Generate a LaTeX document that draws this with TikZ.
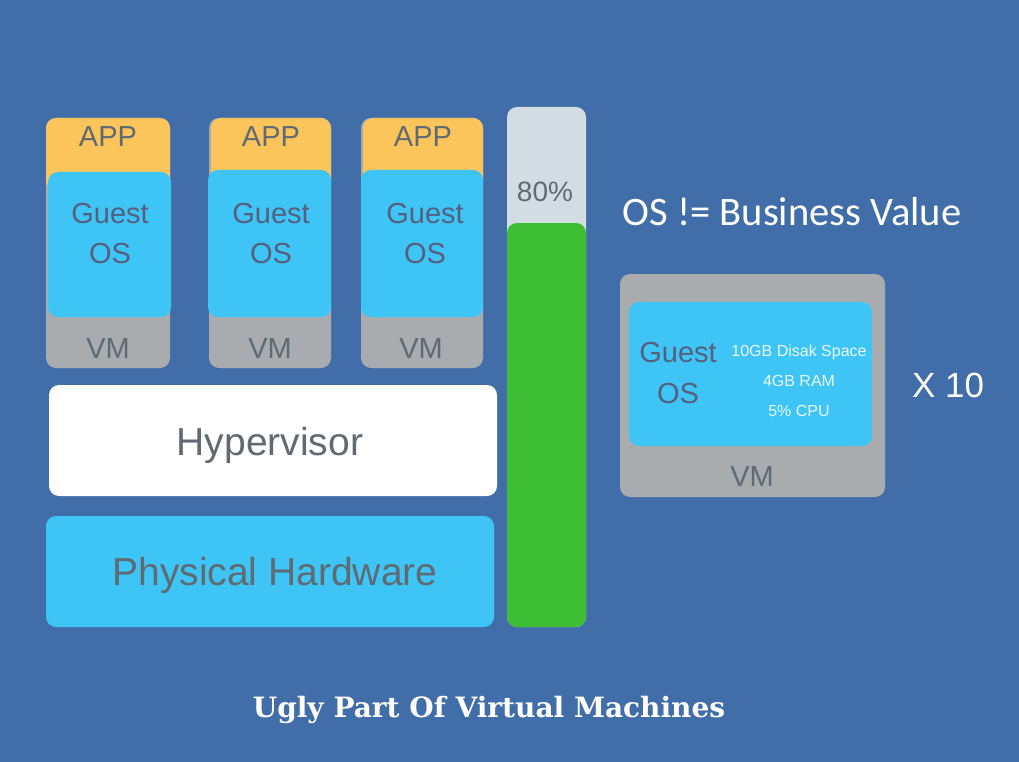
\documentclass[tikz,border=0pt]{standalone}
\usepackage{fontspec}
\setmainfont{Liberation Sans}
\newfontfamily\calfont{Carlito}
\newfontfamily\slabfont{DejaVu Serif}
\usetikzlibrary{positioning}

\definecolor{bgblue}{RGB}{65,109,168}
\definecolor{apporange}{RGB}{251,197,91}
\definecolor{osblue}{RGB}{62,197,245}
\definecolor{vmgray}{RGB}{169,172,175}
\definecolor{barlight}{RGB}{211,220,226}
\definecolor{bargreen}{RGB}{61,190,53}
\definecolor{txtgray}{RGB}{95,106,114}

\newcommand{\fsz}[1]{\fontsize{#1}{#1}\selectfont}

\tikzset{
  box/.style={rectangle, rounded corners=10pt, inner sep=0pt, draw=none},
  vmbox/.style={box, fill=vmgray},
  appbox/.style={box, fill=apporange},
  osbox/.style={box, fill=osblue},
  lbl/.style={inner sep=0pt, anchor=base, text=txtgray, font=\fsz{29}},
  oslbl/.style={lbl, text=txtgray!90!blue},
  spec/.style={inner sep=0pt, anchor=base, text=white!88!osblue, font=\fsz{16}},
}

\begin{document}
\begin{tikzpicture}[x=1pt, y=-1pt]
  \useasboundingbox (0,0) rectangle (1019,762);
  \fill[bgblue] (0,0) rectangle (1019,762);

  % VM stack
  \node[vmbox, minimum width=124, minimum height=250] (vm1) at (108,243) {};
  \node[appbox, minimum width=124, minimum height=72] (app1) at (108,154) {};
  \node[osbox, minimum width=123, minimum height=145] (os1) at (109.5,244.5) {};
  \node[lbl] (app1t) at (108,147) {APP};
  \node[oslbl] (os1g) at (110,223) {Guest};
  \node[oslbl] (os1o) at (110,263) {OS};
  \node[lbl] (vm1t) at (108,358) {VM};

  \node[vmbox, minimum width=122, minimum height=250] (vm2) at (270,243) {};
  \node[appbox, minimum width=120, minimum height=72] (app2) at (271,154) {};
  \node[osbox, minimum width=123, minimum height=147] (os2) at (269.5,243.5) {};
  \node[lbl] (app2t) at (271,147) {APP};
  \node[oslbl] (os2g) at (271,223) {Guest};
  \node[oslbl] (os2o) at (271,263) {OS};
  \node[lbl] (vm2t) at (270,358) {VM};

  \node[vmbox, minimum width=122, minimum height=250] (vm3) at (422,243) {};
  \node[appbox, minimum width=120, minimum height=72] (app3) at (423,154) {};
  \node[osbox, minimum width=122, minimum height=147] (os3) at (422,243.5) {};
  \node[lbl] (app3t) at (423,147) {APP};
  \node[oslbl] (os3g) at (425,223) {Guest};
  \node[oslbl] (os3o) at (425,263) {OS};
  \node[lbl] (vm3t) at (421,358) {VM};

  % base layers
  \node[box, fill=white, minimum width=448, minimum height=111] (hyper) at (273,440.5) {};
  \node[lbl, font=\fsz{39}] (hypert) at (270,455) {Hypervisor};
  \node[osbox, minimum width=448, minimum height=111] (hw) at (270,571.5) {};
  \node[lbl, font=\fsz{39}] (hwt) at (275,585) {Physical Hardware};

  % usage bar
  \node[box, fill=barlight, minimum width=79, minimum height=520] (bar) at (546.5,367) {};
  \node[box, fill=bargreen, minimum width=79, minimum height=404] (used) at (546.5,425) {};
  \node[lbl, font=\fsz{28}] (pct) at (545,201.5) {80\%};

  % single VM
  \node[inner sep=0pt, anchor=base, text=white, font=\calfont\fsz{40.5}] (claim) at (792,225) {OS != Business Value};
  \node[vmbox, minimum width=265, minimum height=223] (vmr) at (752.5,385.5) {};
  \node[osbox, minimum width=243, minimum height=144] (osr) at (750.5,374) {};
  \node[oslbl] (osrg) at (678,362.5) {Guest};
  \node[oslbl] (osro) at (678,403) {OS};
  \node[spec] (disk) at (799,356) {10GB Disak Space};
  \node[spec] (ram) at (799,386.5) {4GB RAM};
  \node[spec] (cpu) at (799,416.5) {5\% CPU};
  \node[lbl] (vmrt) at (752,486) {VM};
  \node[inner sep=0pt, anchor=base, text=white, font=\fsz{35}] (times) at (948,397) {X 10};

  \node[inner sep=0pt, anchor=base, text=white, font=\slabfont\bfseries\fsz{28}] (title) at (489,717.5) {Ugly Part Of Virtual Machines};
\end{tikzpicture}
\end{document}
